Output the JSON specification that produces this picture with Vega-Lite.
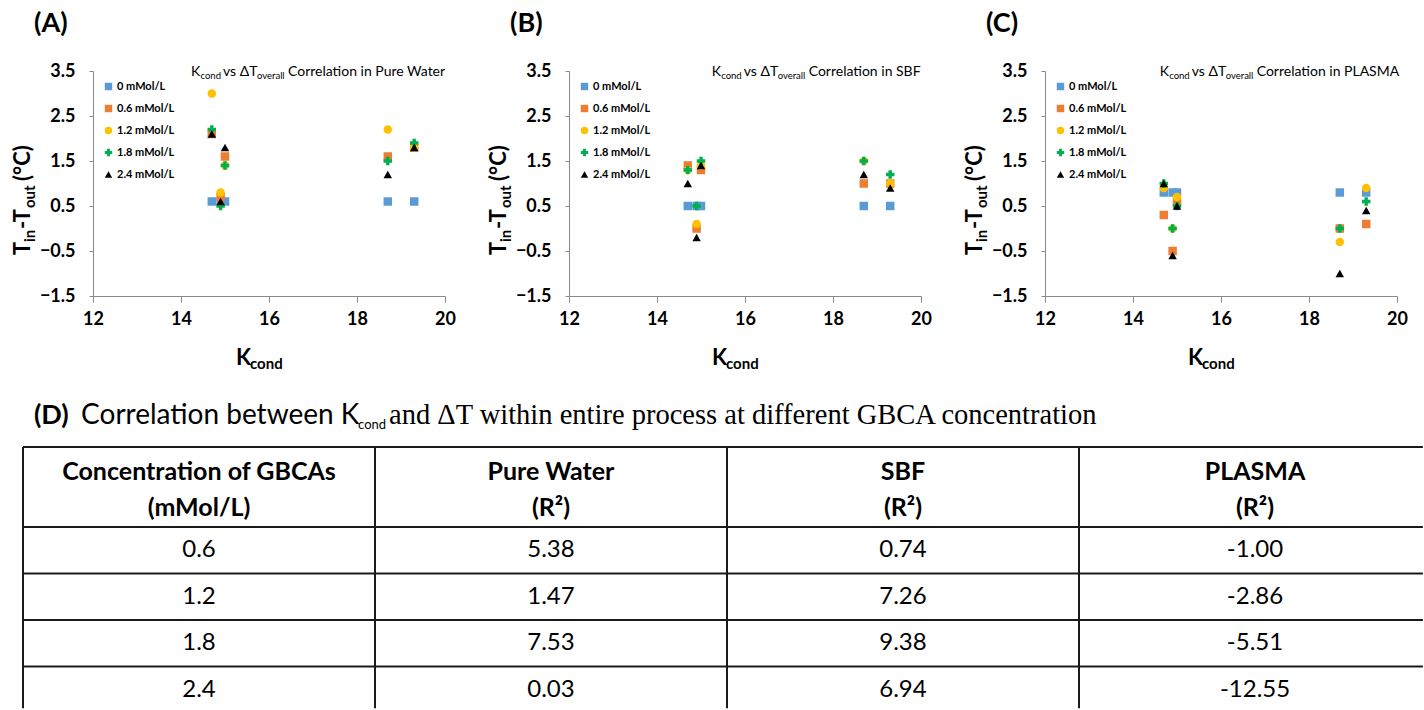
{
  "$schema": "https://vega.github.io/schema/vega-lite/v6.json",
  "padding": {"left": 11, "top": 10, "right": 0, "bottom": 0},
  "background": "white",
  "config": {
    "font": "Lato",
    "view": {"stroke": null},
    "axis": {"grid": false, "domainColor": "#8a8a8a", "tickColor": "#8a8a8a", "labelFont": "Lato", "labelFontWeight": "bold", "labelFontSize": 18, "labelColor": "#000000", "labelFlush": false},
    "axisX": {"tickSize": 6, "labelPadding": 8},
    "axisY": {"tickSize": 4, "labelPadding": 14},
    "legend": {"orient": "top-left", "offset": 10, "padding": 0, "labelFont": "Lato", "labelFontSize": 11, "labelFontWeight": "bold", "labelColor": "#000000", "rowPadding": 10, "symbolSize": 55, "symbolStrokeWidth": 0, "labelOffset": 3},
    "text": {"font": "Lato", "color": "#000000"}
  },
  "datasets": {
    "pts": [
      {"medium": "Pure Water", "conc": "0 mMol/L", "k": 14.7, "dt": 0.6},
      {"medium": "Pure Water", "conc": "0 mMol/L", "k": 14.9, "dt": 0.6},
      {"medium": "Pure Water", "conc": "0 mMol/L", "k": 15.0, "dt": 0.6},
      {"medium": "Pure Water", "conc": "0 mMol/L", "k": 18.7, "dt": 0.6},
      {"medium": "Pure Water", "conc": "0 mMol/L", "k": 19.3, "dt": 0.6},
      {"medium": "Pure Water", "conc": "0.6 mMol/L", "k": 14.7, "dt": 2.1},
      {"medium": "Pure Water", "conc": "0.6 mMol/L", "k": 14.9, "dt": 0.7},
      {"medium": "Pure Water", "conc": "0.6 mMol/L", "k": 15.0, "dt": 1.6},
      {"medium": "Pure Water", "conc": "0.6 mMol/L", "k": 18.7, "dt": 1.6},
      {"medium": "Pure Water", "conc": "0.6 mMol/L", "k": 19.3, "dt": 1.8},
      {"medium": "Pure Water", "conc": "1.2 mMol/L", "k": 14.7, "dt": 3.0},
      {"medium": "Pure Water", "conc": "1.2 mMol/L", "k": 14.9, "dt": 0.8},
      {"medium": "Pure Water", "conc": "1.2 mMol/L", "k": 15.0, "dt": 1.4},
      {"medium": "Pure Water", "conc": "1.2 mMol/L", "k": 18.7, "dt": 2.2},
      {"medium": "Pure Water", "conc": "1.2 mMol/L", "k": 19.3, "dt": 1.8},
      {"medium": "Pure Water", "conc": "1.8 mMol/L", "k": 14.7, "dt": 2.2},
      {"medium": "Pure Water", "conc": "1.8 mMol/L", "k": 14.9, "dt": 0.5},
      {"medium": "Pure Water", "conc": "1.8 mMol/L", "k": 15.0, "dt": 1.4},
      {"medium": "Pure Water", "conc": "1.8 mMol/L", "k": 18.7, "dt": 1.5},
      {"medium": "Pure Water", "conc": "1.8 mMol/L", "k": 19.3, "dt": 1.9},
      {"medium": "Pure Water", "conc": "2.4 mMol/L", "k": 14.7, "dt": 2.1},
      {"medium": "Pure Water", "conc": "2.4 mMol/L", "k": 14.9, "dt": 0.6},
      {"medium": "Pure Water", "conc": "2.4 mMol/L", "k": 15.0, "dt": 1.8},
      {"medium": "Pure Water", "conc": "2.4 mMol/L", "k": 18.7, "dt": 1.2},
      {"medium": "Pure Water", "conc": "2.4 mMol/L", "k": 19.3, "dt": 1.8},
      {"medium": "SBF", "conc": "0 mMol/L", "k": 14.7, "dt": 0.5},
      {"medium": "SBF", "conc": "0 mMol/L", "k": 14.9, "dt": 0.5},
      {"medium": "SBF", "conc": "0 mMol/L", "k": 15.0, "dt": 0.5},
      {"medium": "SBF", "conc": "0 mMol/L", "k": 18.7, "dt": 0.5},
      {"medium": "SBF", "conc": "0 mMol/L", "k": 19.3, "dt": 0.5},
      {"medium": "SBF", "conc": "0.6 mMol/L", "k": 14.7, "dt": 1.4},
      {"medium": "SBF", "conc": "0.6 mMol/L", "k": 14.9, "dt": 0.0},
      {"medium": "SBF", "conc": "0.6 mMol/L", "k": 15.0, "dt": 1.3},
      {"medium": "SBF", "conc": "0.6 mMol/L", "k": 18.7, "dt": 1.0},
      {"medium": "SBF", "conc": "0.6 mMol/L", "k": 19.3, "dt": 1.0},
      {"medium": "SBF", "conc": "1.2 mMol/L", "k": 14.7, "dt": 1.3},
      {"medium": "SBF", "conc": "1.2 mMol/L", "k": 14.9, "dt": 0.1},
      {"medium": "SBF", "conc": "1.2 mMol/L", "k": 15.0, "dt": 1.4},
      {"medium": "SBF", "conc": "1.2 mMol/L", "k": 18.7, "dt": 1.5},
      {"medium": "SBF", "conc": "1.2 mMol/L", "k": 19.3, "dt": 1.0},
      {"medium": "SBF", "conc": "1.8 mMol/L", "k": 14.7, "dt": 1.3},
      {"medium": "SBF", "conc": "1.8 mMol/L", "k": 14.9, "dt": 0.5},
      {"medium": "SBF", "conc": "1.8 mMol/L", "k": 15.0, "dt": 1.5},
      {"medium": "SBF", "conc": "1.8 mMol/L", "k": 18.7, "dt": 1.5},
      {"medium": "SBF", "conc": "1.8 mMol/L", "k": 19.3, "dt": 1.2},
      {"medium": "SBF", "conc": "2.4 mMol/L", "k": 14.7, "dt": 1.0},
      {"medium": "SBF", "conc": "2.4 mMol/L", "k": 14.9, "dt": -0.2},
      {"medium": "SBF", "conc": "2.4 mMol/L", "k": 15.0, "dt": 1.4},
      {"medium": "SBF", "conc": "2.4 mMol/L", "k": 18.7, "dt": 1.2},
      {"medium": "SBF", "conc": "2.4 mMol/L", "k": 19.3, "dt": 0.9},
      {"medium": "PLASMA", "conc": "0 mMol/L", "k": 14.7, "dt": 0.8},
      {"medium": "PLASMA", "conc": "0 mMol/L", "k": 14.9, "dt": 0.8},
      {"medium": "PLASMA", "conc": "0 mMol/L", "k": 15.0, "dt": 0.8},
      {"medium": "PLASMA", "conc": "0 mMol/L", "k": 18.7, "dt": 0.8},
      {"medium": "PLASMA", "conc": "0 mMol/L", "k": 19.3, "dt": 0.8},
      {"medium": "PLASMA", "conc": "0.6 mMol/L", "k": 14.7, "dt": 0.3},
      {"medium": "PLASMA", "conc": "0.6 mMol/L", "k": 14.9, "dt": -0.5},
      {"medium": "PLASMA", "conc": "0.6 mMol/L", "k": 15.0, "dt": 0.6},
      {"medium": "PLASMA", "conc": "0.6 mMol/L", "k": 18.7, "dt": 0.0},
      {"medium": "PLASMA", "conc": "0.6 mMol/L", "k": 19.3, "dt": 0.1},
      {"medium": "PLASMA", "conc": "1.2 mMol/L", "k": 14.7, "dt": 0.9},
      {"medium": "PLASMA", "conc": "1.2 mMol/L", "k": 14.9, "dt": 0.0},
      {"medium": "PLASMA", "conc": "1.2 mMol/L", "k": 15.0, "dt": 0.7},
      {"medium": "PLASMA", "conc": "1.2 mMol/L", "k": 18.7, "dt": -0.3},
      {"medium": "PLASMA", "conc": "1.2 mMol/L", "k": 19.3, "dt": 0.9},
      {"medium": "PLASMA", "conc": "1.8 mMol/L", "k": 14.7, "dt": 1.0},
      {"medium": "PLASMA", "conc": "1.8 mMol/L", "k": 14.9, "dt": 0.0},
      {"medium": "PLASMA", "conc": "1.8 mMol/L", "k": 15.0, "dt": 0.5},
      {"medium": "PLASMA", "conc": "1.8 mMol/L", "k": 18.7, "dt": 0.0},
      {"medium": "PLASMA", "conc": "1.8 mMol/L", "k": 19.3, "dt": 0.6},
      {"medium": "PLASMA", "conc": "2.4 mMol/L", "k": 14.7, "dt": 1.0},
      {"medium": "PLASMA", "conc": "2.4 mMol/L", "k": 14.9, "dt": -0.6},
      {"medium": "PLASMA", "conc": "2.4 mMol/L", "k": 15.0, "dt": 0.5},
      {"medium": "PLASMA", "conc": "2.4 mMol/L", "k": 18.7, "dt": -1.0},
      {"medium": "PLASMA", "conc": "2.4 mMol/L", "k": 19.3, "dt": 0.4}
    ],
    "cells": [
      {"row": 0, "col": 0, "txt": "Concentration  of GBCAs\n(mMol/L)"},
      {"row": 0, "col": 1, "txt": "Pure Water\n(R²)"},
      {"row": 0, "col": 2, "txt": "SBF\n(R²)"},
      {"row": 0, "col": 3, "txt": "PLASMA\n(R²)"},
      {"row": 1, "col": 0, "txt": "0.6"},
      {"row": 1, "col": 1, "txt": "5.38"},
      {"row": 1, "col": 2, "txt": "0.74"},
      {"row": 1, "col": 3, "txt": "-1.00"},
      {"row": 2, "col": 0, "txt": "1.2"},
      {"row": 2, "col": 1, "txt": "1.47"},
      {"row": 2, "col": 2, "txt": "7.26"},
      {"row": 2, "col": 3, "txt": "-2.86"},
      {"row": 3, "col": 0, "txt": "1.8"},
      {"row": 3, "col": 1, "txt": "7.53"},
      {"row": 3, "col": 2, "txt": "9.38"},
      {"row": 3, "col": 3, "txt": "-5.51"},
      {"row": 4, "col": 0, "txt": "2.4"},
      {"row": 4, "col": 1, "txt": "0.03"},
      {"row": 4, "col": 2, "txt": "6.94"},
      {"row": 4, "col": 3, "txt": "-12.55"}
    ],
    "vlines": [{"c": 0}, {"c": 1}, {"c": 2}, {"c": 3}],
    "hlines": [{"r": -0.5}, {"r": 0.5}, {"r": 1.5}, {"r": 2.5}, {"r": 3.5}],
    "one": [{}]
  },
  "vconcat": [
    {
      "hconcat": [
        {
          "width": 352, "height": 225,
          "layer": [
            {
              "data": {"name": "pts"},
              "transform": [{"filter": "datum.medium === 'Pure Water'"}],
              "mark": {"type": "point", "filled": true, "size": 72, "opacity": 1},
              "encoding": {
                "x": {"field": "k", "type": "quantitative", "scale": {"domain": [12, 20], "nice": false, "zero": false}, "axis": {"title": null, "values": [12, 14, 16, 18, 20]}},
                "y": {"field": "dt", "type": "quantitative", "scale": {"domain": [-1.5, 3.5], "nice": false, "zero": false}, "axis": {"title": null, "values": [-1.5, -0.5, 0.5, 1.5, 2.5, 3.5], "format": ".1f"}},
                "color": {"field": "conc", "type": "nominal", "scale": {"domain": ["0 mMol/L", "0.6 mMol/L", "1.2 mMol/L", "1.8 mMol/L", "2.4 mMol/L"], "range": ["#5B9BD5", "#ED7D31", "#FFC000", "#00B050", "#000000"]}, "legend": {"title": null}},
                "shape": {"field": "conc", "type": "nominal", "scale": {"domain": ["0 mMol/L", "0.6 mMol/L", "1.2 mMol/L", "1.8 mMol/L", "2.4 mMol/L"], "range": ["square", "square", "circle", "cross", "triangle-up"]}, "legend": {"title": null}}
              }
            },
            {"data": {"name": "one"}, "mark": {"type": "text", "align": "left", "baseline": "middle", "fontSize": 27, "fontWeight": "bold"}, "encoding": {"x": {"datum": 10.659}, "y": {"datum": 4.544}, "text": {"value": "(A)"}}},
            {"data": {"name": "one"}, "mark": {"type": "text", "align": "left", "baseline": "alphabetic", "fontSize": 14}, "encoding": {"x": {"datum": 14.227}, "y": {"datum": 3.389}, "text": {"value": "K"}}},
            {"data": {"name": "one"}, "mark": {"type": "text", "align": "left", "baseline": "alphabetic", "fontSize": 9.5, "dx": 9.5, "dy": 3}, "encoding": {"x": {"datum": 14.227}, "y": {"datum": 3.389}, "text": {"value": "cond"}}},
            {"data": {"name": "one"}, "mark": {"type": "text", "align": "left", "baseline": "alphabetic", "fontSize": 14, "dx": 32}, "encoding": {"x": {"datum": 14.227}, "y": {"datum": 3.389}, "text": {"value": "vs ΔT"}}},
            {"data": {"name": "one"}, "mark": {"type": "text", "align": "left", "baseline": "alphabetic", "fontSize": 9.5, "dx": 66, "dy": 3}, "encoding": {"x": {"datum": 14.227}, "y": {"datum": 3.389}, "text": {"value": "overall"}}},
            {"data": {"name": "one"}, "mark": {"type": "text", "align": "left", "baseline": "alphabetic", "fontSize": 14, "dx": 97}, "encoding": {"x": {"datum": 14.227}, "y": {"datum": 3.389}, "text": {"value": "Correlation in Pure Water"}}},
            {"data": {"name": "one"}, "mark": {"type": "text", "align": "left", "baseline": "alphabetic", "fontSize": 22, "fontWeight": "bold"}, "encoding": {"x": {"datum": 15.25}, "y": {"datum": -3.033}, "text": {"value": "K"}}},
            {"data": {"name": "one"}, "mark": {"type": "text", "align": "left", "baseline": "alphabetic", "fontSize": 15, "fontWeight": "bold", "dx": 14, "dy": 4}, "encoding": {"x": {"datum": 15.25}, "y": {"datum": -3.033}, "text": {"value": "cond"}}},
            {"data": {"name": "one"}, "mark": {"type": "text", "align": "left", "baseline": "alphabetic", "angle": 270, "fontSize": 22, "fontWeight": "bold"}, "encoding": {"x": {"datum": 10.568}, "y": {"datum": -0.589}, "text": {"value": "T"}}},
            {"data": {"name": "one"}, "mark": {"type": "text", "align": "left", "baseline": "alphabetic", "angle": 270, "fontSize": 15, "fontWeight": "bold", "dx": 13, "dy": 5}, "encoding": {"x": {"datum": 10.568}, "y": {"datum": -0.589}, "text": {"value": "in"}}},
            {"data": {"name": "one"}, "mark": {"type": "text", "align": "left", "baseline": "alphabetic", "angle": 270, "fontSize": 22, "fontWeight": "bold", "dx": 26}, "encoding": {"x": {"datum": 10.568}, "y": {"datum": -0.589}, "text": {"value": "-T"}}},
            {"data": {"name": "one"}, "mark": {"type": "text", "align": "left", "baseline": "alphabetic", "angle": 270, "fontSize": 15, "fontWeight": "bold", "dx": 47, "dy": 5}, "encoding": {"x": {"datum": 10.568}, "y": {"datum": -0.589}, "text": {"value": "out"}}},
            {"data": {"name": "one"}, "mark": {"type": "text", "align": "left", "baseline": "alphabetic", "angle": 270, "fontSize": 22, "fontWeight": "bold", "dx": 74}, "encoding": {"x": {"datum": 10.568}, "y": {"datum": -0.589}, "text": {"value": "(°C)"}}}
          ]
        },
        {
          "width": 352, "height": 225,
          "layer": [
            {
              "data": {"name": "pts"},
              "transform": [{"filter": "datum.medium === 'SBF'"}],
              "mark": {"type": "point", "filled": true, "size": 72, "opacity": 1},
              "encoding": {
                "x": {"field": "k", "type": "quantitative", "scale": {"domain": [12, 20], "nice": false, "zero": false}, "axis": {"title": null, "values": [12, 14, 16, 18, 20]}},
                "y": {"field": "dt", "type": "quantitative", "scale": {"domain": [-1.5, 3.5], "nice": false, "zero": false}, "axis": {"title": null, "values": [-1.5, -0.5, 0.5, 1.5, 2.5, 3.5], "format": ".1f"}},
                "color": {"field": "conc", "type": "nominal", "scale": {"domain": ["0 mMol/L", "0.6 mMol/L", "1.2 mMol/L", "1.8 mMol/L", "2.4 mMol/L"], "range": ["#5B9BD5", "#ED7D31", "#FFC000", "#00B050", "#000000"]}, "legend": {"title": null}},
                "shape": {"field": "conc", "type": "nominal", "scale": {"domain": ["0 mMol/L", "0.6 mMol/L", "1.2 mMol/L", "1.8 mMol/L", "2.4 mMol/L"], "range": ["square", "square", "circle", "cross", "triangle-up"]}, "legend": {"title": null}}
              }
            },
            {"data": {"name": "one"}, "mark": {"type": "text", "align": "left", "baseline": "middle", "fontSize": 27, "fontWeight": "bold"}, "encoding": {"x": {"datum": 10.659}, "y": {"datum": 4.544}, "text": {"value": "(B)"}}},
            {"data": {"name": "one"}, "mark": {"type": "text", "align": "left", "baseline": "alphabetic", "fontSize": 14}, "encoding": {"x": {"datum": 15.243}, "y": {"datum": 3.389}, "text": {"value": "K"}}},
            {"data": {"name": "one"}, "mark": {"type": "text", "align": "left", "baseline": "alphabetic", "fontSize": 9.5, "dx": 9.5, "dy": 3}, "encoding": {"x": {"datum": 15.243}, "y": {"datum": 3.389}, "text": {"value": "cond"}}},
            {"data": {"name": "one"}, "mark": {"type": "text", "align": "left", "baseline": "alphabetic", "fontSize": 14, "dx": 32}, "encoding": {"x": {"datum": 15.243}, "y": {"datum": 3.389}, "text": {"value": "vs ΔT"}}},
            {"data": {"name": "one"}, "mark": {"type": "text", "align": "left", "baseline": "alphabetic", "fontSize": 9.5, "dx": 66, "dy": 3}, "encoding": {"x": {"datum": 15.243}, "y": {"datum": 3.389}, "text": {"value": "overall"}}},
            {"data": {"name": "one"}, "mark": {"type": "text", "align": "left", "baseline": "alphabetic", "fontSize": 14, "dx": 97}, "encoding": {"x": {"datum": 15.243}, "y": {"datum": 3.389}, "text": {"value": "Correlation in SBF"}}},
            {"data": {"name": "one"}, "mark": {"type": "text", "align": "left", "baseline": "alphabetic", "fontSize": 22, "fontWeight": "bold"}, "encoding": {"x": {"datum": 15.25}, "y": {"datum": -3.033}, "text": {"value": "K"}}},
            {"data": {"name": "one"}, "mark": {"type": "text", "align": "left", "baseline": "alphabetic", "fontSize": 15, "fontWeight": "bold", "dx": 14, "dy": 4}, "encoding": {"x": {"datum": 15.25}, "y": {"datum": -3.033}, "text": {"value": "cond"}}},
            {"data": {"name": "one"}, "mark": {"type": "text", "align": "left", "baseline": "alphabetic", "angle": 270, "fontSize": 22, "fontWeight": "bold"}, "encoding": {"x": {"datum": 10.568}, "y": {"datum": -0.589}, "text": {"value": "T"}}},
            {"data": {"name": "one"}, "mark": {"type": "text", "align": "left", "baseline": "alphabetic", "angle": 270, "fontSize": 15, "fontWeight": "bold", "dx": 13, "dy": 5}, "encoding": {"x": {"datum": 10.568}, "y": {"datum": -0.589}, "text": {"value": "in"}}},
            {"data": {"name": "one"}, "mark": {"type": "text", "align": "left", "baseline": "alphabetic", "angle": 270, "fontSize": 22, "fontWeight": "bold", "dx": 26}, "encoding": {"x": {"datum": 10.568}, "y": {"datum": -0.589}, "text": {"value": "-T"}}},
            {"data": {"name": "one"}, "mark": {"type": "text", "align": "left", "baseline": "alphabetic", "angle": 270, "fontSize": 15, "fontWeight": "bold", "dx": 47, "dy": 5}, "encoding": {"x": {"datum": 10.568}, "y": {"datum": -0.589}, "text": {"value": "out"}}},
            {"data": {"name": "one"}, "mark": {"type": "text", "align": "left", "baseline": "alphabetic", "angle": 270, "fontSize": 22, "fontWeight": "bold", "dx": 74}, "encoding": {"x": {"datum": 10.568}, "y": {"datum": -0.589}, "text": {"value": "(°C)"}}}
          ]
        },
        {
          "width": 352, "height": 225,
          "layer": [
            {
              "data": {"name": "pts"},
              "transform": [{"filter": "datum.medium === 'PLASMA'"}],
              "mark": {"type": "point", "filled": true, "size": 72, "opacity": 1},
              "encoding": {
                "x": {"field": "k", "type": "quantitative", "scale": {"domain": [12, 20], "nice": false, "zero": false}, "axis": {"title": null, "values": [12, 14, 16, 18, 20]}},
                "y": {"field": "dt", "type": "quantitative", "scale": {"domain": [-1.5, 3.5], "nice": false, "zero": false}, "axis": {"title": null, "values": [-1.5, -0.5, 0.5, 1.5, 2.5, 3.5], "format": ".1f"}},
                "color": {"field": "conc", "type": "nominal", "scale": {"domain": ["0 mMol/L", "0.6 mMol/L", "1.2 mMol/L", "1.8 mMol/L", "2.4 mMol/L"], "range": ["#5B9BD5", "#ED7D31", "#FFC000", "#00B050", "#000000"]}, "legend": {"title": null}},
                "shape": {"field": "conc", "type": "nominal", "scale": {"domain": ["0 mMol/L", "0.6 mMol/L", "1.2 mMol/L", "1.8 mMol/L", "2.4 mMol/L"], "range": ["square", "square", "circle", "cross", "triangle-up"]}, "legend": {"title": null}}
              }
            },
            {"data": {"name": "one"}, "mark": {"type": "text", "align": "left", "baseline": "middle", "fontSize": 27, "fontWeight": "bold"}, "encoding": {"x": {"datum": 10.659}, "y": {"datum": 4.544}, "text": {"value": "(C)"}}},
            {"data": {"name": "one"}, "mark": {"type": "text", "align": "left", "baseline": "alphabetic", "fontSize": 14}, "encoding": {"x": {"datum": 14.607}, "y": {"datum": 3.389}, "text": {"value": "K"}}},
            {"data": {"name": "one"}, "mark": {"type": "text", "align": "left", "baseline": "alphabetic", "fontSize": 9.5, "dx": 9.5, "dy": 3}, "encoding": {"x": {"datum": 14.607}, "y": {"datum": 3.389}, "text": {"value": "cond"}}},
            {"data": {"name": "one"}, "mark": {"type": "text", "align": "left", "baseline": "alphabetic", "fontSize": 14, "dx": 32}, "encoding": {"x": {"datum": 14.607}, "y": {"datum": 3.389}, "text": {"value": "vs ΔT"}}},
            {"data": {"name": "one"}, "mark": {"type": "text", "align": "left", "baseline": "alphabetic", "fontSize": 9.5, "dx": 66, "dy": 3}, "encoding": {"x": {"datum": 14.607}, "y": {"datum": 3.389}, "text": {"value": "overall"}}},
            {"data": {"name": "one"}, "mark": {"type": "text", "align": "left", "baseline": "alphabetic", "fontSize": 14, "dx": 97}, "encoding": {"x": {"datum": 14.607}, "y": {"datum": 3.389}, "text": {"value": "Correlation in PLASMA"}}},
            {"data": {"name": "one"}, "mark": {"type": "text", "align": "left", "baseline": "alphabetic", "fontSize": 22, "fontWeight": "bold"}, "encoding": {"x": {"datum": 15.25}, "y": {"datum": -3.033}, "text": {"value": "K"}}},
            {"data": {"name": "one"}, "mark": {"type": "text", "align": "left", "baseline": "alphabetic", "fontSize": 15, "fontWeight": "bold", "dx": 14, "dy": 4}, "encoding": {"x": {"datum": 15.25}, "y": {"datum": -3.033}, "text": {"value": "cond"}}},
            {"data": {"name": "one"}, "mark": {"type": "text", "align": "left", "baseline": "alphabetic", "angle": 270, "fontSize": 22, "fontWeight": "bold"}, "encoding": {"x": {"datum": 10.568}, "y": {"datum": -0.589}, "text": {"value": "T"}}},
            {"data": {"name": "one"}, "mark": {"type": "text", "align": "left", "baseline": "alphabetic", "angle": 270, "fontSize": 15, "fontWeight": "bold", "dx": 13, "dy": 5}, "encoding": {"x": {"datum": 10.568}, "y": {"datum": -0.589}, "text": {"value": "in"}}},
            {"data": {"name": "one"}, "mark": {"type": "text", "align": "left", "baseline": "alphabetic", "angle": 270, "fontSize": 22, "fontWeight": "bold", "dx": 26}, "encoding": {"x": {"datum": 10.568}, "y": {"datum": -0.589}, "text": {"value": "-T"}}},
            {"data": {"name": "one"}, "mark": {"type": "text", "align": "left", "baseline": "alphabetic", "angle": 270, "fontSize": 15, "fontWeight": "bold", "dx": 47, "dy": 5}, "encoding": {"x": {"datum": 10.568}, "y": {"datum": -0.589}, "text": {"value": "out"}}},
            {"data": {"name": "one"}, "mark": {"type": "text", "align": "left", "baseline": "alphabetic", "angle": 270, "fontSize": 22, "fontWeight": "bold", "dx": 74}, "encoding": {"x": {"datum": 10.568}, "y": {"datum": -0.589}, "text": {"value": "(°C)"}}}
          ]
        }
      ],
      "spacing": 124,
      "bounds": "flush",
      "resolve": {"scale": {"color": "independent", "shape": "independent"}}
    },
    {
      "width": 1332, "height": 262,
      "layer": [
        {
          "data": {"name": "vlines"},
          "mark": {"type": "rule", "stroke": "#1a1a1a", "strokeWidth": 2},
          "encoding": {
            "x": {"field": "c", "type": "quantitative", "scale": {"domain": [0, 4], "range": [-70, 1338]}, "axis": null},
            "y": {"datum": -0.5, "type": "quantitative", "scale": {"domain": [-0.5, 0.5, 4.5], "range": [0, 80, 266]}, "axis": null},
            "y2": {"datum": 4.4}
          }
        },
        {
          "data": {"name": "hlines"},
          "mark": {"type": "rule", "stroke": "#1a1a1a", "strokeWidth": 2},
          "encoding": {
            "y": {"field": "r", "type": "quantitative", "axis": null},
            "x": {"datum": 0, "type": "quantitative", "axis": null},
            "x2": {"datum": 3.977}
          }
        },
        {
          "data": {"name": "cells"},
          "transform": [{"filter": "datum.row === 0"}],
          "mark": {"type": "text", "align": "center", "baseline": "middle", "fontSize": 25, "fontWeight": "bold", "lineBreak": "\n", "lineHeight": 36, "dx": 176, "dy": -15},
          "encoding": {
            "x": {"field": "col", "type": "quantitative", "axis": null},
            "y": {"field": "row", "type": "quantitative", "axis": null},
            "text": {"field": "txt"}
          }
        },
        {
          "data": {"name": "cells"},
          "transform": [{"filter": "datum.row > 0"}],
          "mark": {"type": "text", "align": "center", "baseline": "middle", "fontSize": 24, "dx": 176},
          "encoding": {
            "x": {"field": "col", "type": "quantitative", "axis": null},
            "y": {"field": "row", "type": "quantitative", "axis": null},
            "text": {"field": "txt"}
          }
        },
        {"data": {"name": "one"}, "mark": {"type": "text", "align": "left", "baseline": "alphabetic", "fontSize": 27, "fontWeight": "bold"}, "encoding": {"x": {"datum": 0.031}, "y": {"datum": -0.7875}, "text": {"value": "(D)"}}},
        {"data": {"name": "one"}, "mark": {"type": "text", "align": "left", "baseline": "alphabetic", "fontSize": 28}, "encoding": {"x": {"datum": 0.165}, "y": {"datum": -0.7875}, "text": {"value": "Correlation between K"}}},
        {"data": {"name": "one"}, "mark": {"type": "text", "align": "left", "baseline": "alphabetic", "fontSize": 13, "dy": 5}, "encoding": {"x": {"datum": 0.952}, "y": {"datum": -0.7875}, "text": {"value": "cond"}}},
        {"data": {"name": "one"}, "mark": {"type": "text", "align": "left", "baseline": "alphabetic", "fontSize": 28.5, "font": "Liberation Serif"}, "encoding": {"x": {"datum": 1.04}, "y": {"datum": -0.7875}, "text": {"value": "and ΔT within entire process at different GBCA concentration"}}}
      ]
    }
  ],
  "spacing": 376,
  "bounds": "flush"
}
